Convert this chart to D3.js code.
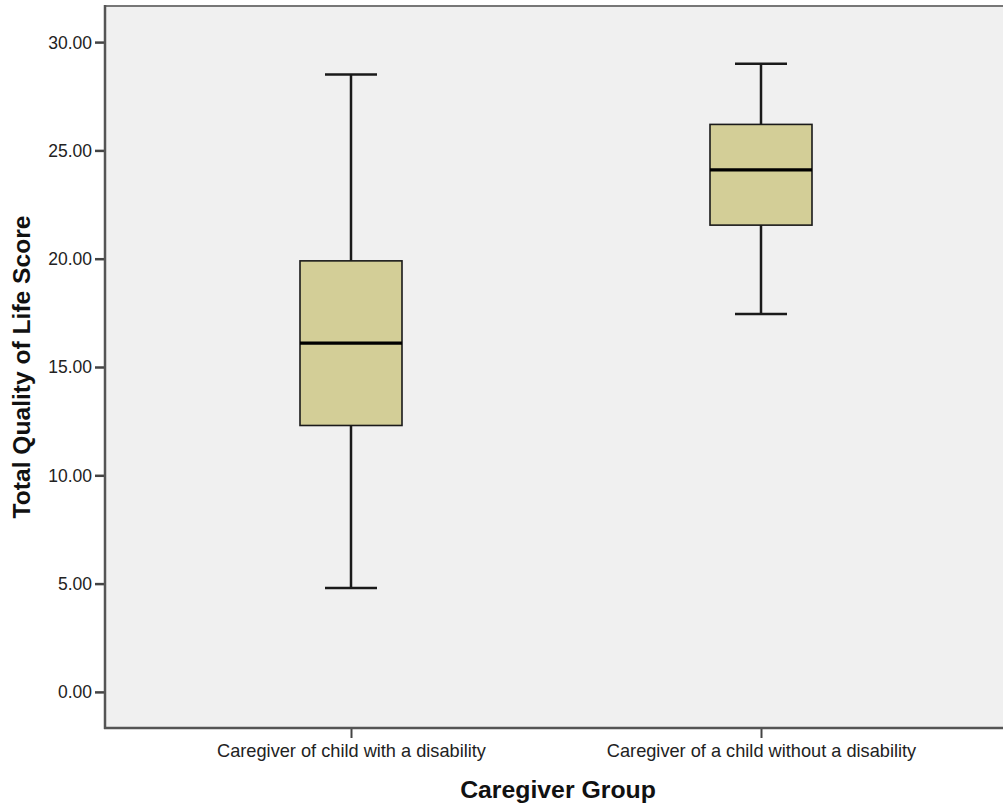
<!DOCTYPE html>
<html>
<head>
<meta charset="utf-8">
<script src="https://cdn.jsdelivr.net/npm/d3@7"></script>
<style>
  html, body { margin: 0; padding: 0; background: #ffffff; }
  svg { display: block; font-family: "Liberation Sans", Arial, sans-serif; }
</style>
</head>
<body>
<svg id="chart" width="1003" height="807"></svg>
<script>
// Caregiver groups and their five-number summaries
const groups = ["Caregiver of child with a disability", "Caregiver of a child without a disability"];
const whiskerLow = [4.8, 17.45];
const quartile1 = [12.3, 21.55];
const medians = [16.1, 24.1];
const quartile3 = [19.9, 26.2];
const whiskerHigh = [28.5, 29.0];
const yTicks = [0, 5, 10, 15, 20, 25, 30];

const svg = d3.select("#chart");
const plotLeft = 105, plotTop = 6, plotRight = 1007, plotBottom = 728;

const y = d3.scaleLinear().domain([-5 / 3, 95 / 3]).range([plotBottom, plotTop]);
const x = d3.scalePoint().domain(groups).range([plotLeft, plotRight]).padding(0.6);

// plot background
svg.append("rect")
  .attr("x", plotLeft).attr("y", plotTop)
  .attr("width", plotRight - plotLeft).attr("height", plotBottom - plotTop)
  .attr("fill", "#f0f0f0");

// top frame line
svg.append("line")
  .attr("x1", plotLeft).attr("x2", plotRight)
  .attr("y1", plotTop).attr("y2", plotTop)
  .attr("stroke", "#777").attr("stroke-width", 2);

// y axis
const yAxis = svg.append("g")
  .attr("transform", `translate(${plotLeft},0)`)
  .call(d3.axisLeft(y).tickValues(yTicks).tickFormat(d3.format(".2f")).tickSize(10).tickSizeOuter(0));
yAxis.select(".domain").remove();
yAxis.selectAll(".tick line").attr("stroke", "#444").attr("stroke-width", 2.5);
yAxis.selectAll(".tick text")
  .attr("x", -13).attr("dy", "0.34em")
  .attr("fill", "#222").style("font-size", "17.5px");
svg.append("line")
  .attr("x1", plotLeft).attr("x2", plotLeft)
  .attr("y1", plotTop - 1).attr("y2", plotBottom + 1)
  .attr("stroke", "#555").attr("stroke-width", 2.5);

// x axis
const xAxis = svg.append("g")
  .attr("transform", `translate(0,${plotBottom})`)
  .call(d3.axisBottom(x).tickSize(10).tickSizeOuter(0));
xAxis.select(".domain").remove();
xAxis.selectAll(".tick line").attr("stroke", "#444").attr("stroke-width", 2);
xAxis.selectAll(".tick text")
  .attr("y", 29).attr("dy", 0)
  .attr("fill", "#222").style("font-size", "18.2px");
svg.append("line")
  .attr("x1", plotLeft - 1).attr("x2", plotRight)
  .attr("y1", plotBottom).attr("y2", plotBottom)
  .attr("stroke", "#555").attr("stroke-width", 2.5);

// box plots
const boxW = 102, capW = 52;
const data = groups.map((g, i) => ({
  g, lo: whiskerLow[i], q1: quartile1[i], med: medians[i], q3: quartile3[i], hi: whiskerHigh[i]
}));

const box = svg.append("g").selectAll("g").data(data).join("g");

// whisker stems
box.append("line")
  .attr("x1", d => x(d.g)).attr("x2", d => x(d.g))
  .attr("y1", d => y(d.hi)).attr("y2", d => y(d.q3))
  .attr("stroke", "#1a1a1a").attr("stroke-width", 2.5);
box.append("line")
  .attr("x1", d => x(d.g)).attr("x2", d => x(d.g))
  .attr("y1", d => y(d.q1)).attr("y2", d => y(d.lo))
  .attr("stroke", "#1a1a1a").attr("stroke-width", 2.5);

// whisker caps
box.append("line")
  .attr("x1", d => x(d.g) - capW / 2).attr("x2", d => x(d.g) + capW / 2)
  .attr("y1", d => y(d.hi)).attr("y2", d => y(d.hi))
  .attr("stroke", "#1a1a1a").attr("stroke-width", 2.5);
box.append("line")
  .attr("x1", d => x(d.g) - capW / 2).attr("x2", d => x(d.g) + capW / 2)
  .attr("y1", d => y(d.lo)).attr("y2", d => y(d.lo))
  .attr("stroke", "#1a1a1a").attr("stroke-width", 2.5);

// interquartile box
box.append("rect")
  .attr("x", d => x(d.g) - boxW / 2)
  .attr("y", d => y(d.q3))
  .attr("width", boxW)
  .attr("height", d => y(d.q1) - y(d.q3))
  .attr("fill", "#d3ce97")
  .attr("stroke", "#1a1a1a").attr("stroke-width", 1.6);

// median
box.append("line")
  .attr("x1", d => x(d.g) - boxW / 2).attr("x2", d => x(d.g) + boxW / 2)
  .attr("y1", d => y(d.med)).attr("y2", d => y(d.med))
  .attr("stroke", "#000").attr("stroke-width", 3.4);

// axis titles
svg.append("text")
  .attr("x", 558).attr("y", 798)
  .attr("text-anchor", "middle")
  .style("font-size", "24.8px").style("font-weight", "bold")
  .attr("fill", "#111")
  .text("Caregiver Group");

svg.append("text")
  .attr("transform", "translate(30,367) rotate(-90)")
  .attr("text-anchor", "middle")
  .style("font-size", "24.6px").style("font-weight", "bold")
  .attr("fill", "#111")
  .text("Total Quality of Life Score");
</script>
</body>
</html>
